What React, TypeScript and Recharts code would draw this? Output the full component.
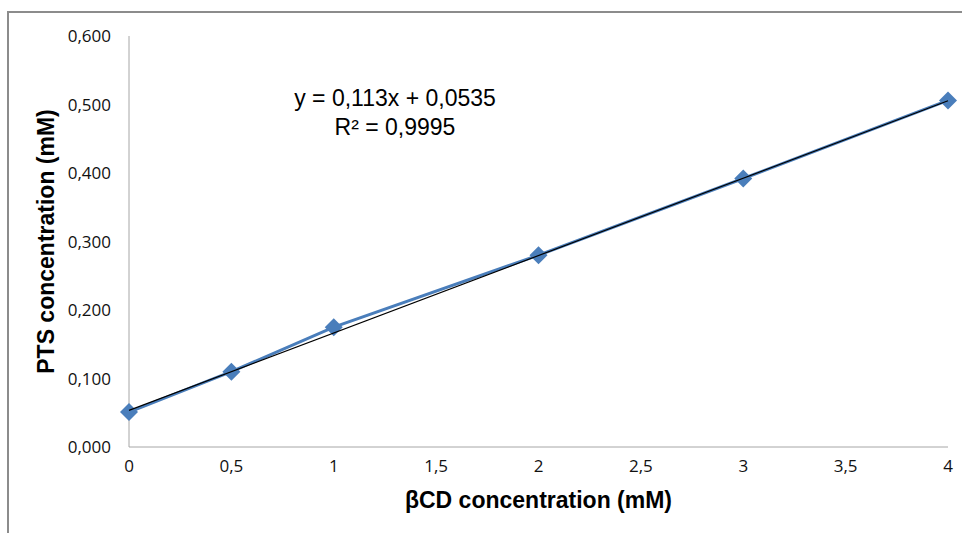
import React from "react";
import { ScatterChart, Scatter, XAxis, YAxis } from "recharts";

// Measured PTS solubility vs βCD concentration
const cdConc = [0, 0.5, 1, 2, 3, 4];
const ptsConc = [0.051, 0.11, 0.175, 0.28, 0.392, 0.506];

// Linear fit reported on the chart
const SLOPE = 0.113;
const INTERCEPT = 0.0535;
const FIT_RANGE = [0, 4];

const xTicks = [0, 0.5, 1, 1.5, 2, 2.5, 3, 3.5, 4];
const yTicks = [0, 0.1, 0.2, 0.3, 0.4, 0.5, 0.6];

const points = cdConc.map((x, i) => ({ x, y: ptsConc[i] }));
const fitLine = FIT_RANGE.map((x) => ({ x, y: SLOPE * x + INTERCEPT }));

const BLUE = "#4a7ebb";
const AXIS_GRAY = "#a6a6a6";
const TICK_FONT = "'Open Sans', 'Noto Sans', sans-serif";
const TITLE_FONT = "'Liberation Sans', Arial, sans-serif";

const comma = (v: number, digits: number) =>
  digits ? v.toFixed(digits).replace(".", ",") : String(v).replace(".", ",");

const tickStyle = {
  fill: "#111",
  fontSize: 17,
  fontFamily: TICK_FONT,
};

const Diamond = (props: any) => {
  const { cx, cy } = props;
  if (cx == null || cy == null) return null;
  const r = 9;
  return (
    <polygon
      points={`${cx},${cy - r} ${cx + r},${cy} ${cx},${cy + r} ${cx - r},${cy}`}
      fill={BLUE}
    />
  );
};

const XTitle = (props: any) => {
  const { x, y, width } = props.viewBox;
  return (
    <text
      x={x + width / 2}
      y={y + 61}
      textAnchor="middle"
      fontFamily={TITLE_FONT}
      fontWeight={700}
      fontSize={23}
      fill="#000"
    >
      βCD concentration (mM)
    </text>
  );
};

const YTitle = (props: any) => {
  const { y, height } = props.viewBox;
  const cx = 54;
  const cy = y + height / 2;
  return (
    <text
      x={cx}
      y={cy}
      transform={`rotate(-90 ${cx} ${cy})`}
      textAnchor="middle"
      fontFamily={TITLE_FONT}
      fontWeight={700}
      fontSize={23}
      fill="#000"
    >
      PTS concentration (mM)
    </text>
  );
};

export default function App() {
  return (
    <div
      style={{
        position: "absolute",
        left: 0,
        top: 0,
        width: 962,
        height: 533,
        overflow: "hidden",
        background: "#fff",
      }}
    >
      {/* chart frame */}
      <div
        style={{
          position: "absolute",
          left: 7,
          top: 11,
          width: 1100,
          height: 700,
          border: "2px solid #8c8c8c",
        }}
      />
      <ScatterChart
        width={962}
        height={533}
        margin={{ top: 36, right: 14, left: 0, bottom: 0 }}
        style={{ position: "absolute", left: 0, top: 0 }}
      >
        <XAxis
          type="number"
          dataKey="x"
          domain={[0, 4]}
          ticks={xTicks}
          height={86}
          tickLine={false}
          tickMargin={7}
          fontSize={17}
          axisLine={{ stroke: AXIS_GRAY, strokeWidth: 1 }}
          tick={tickStyle}
          tickFormatter={(v: number) => comma(v, 0)}
          label={<XTitle />}
        />
        <YAxis
          type="number"
          dataKey="y"
          domain={[0, 0.6]}
          ticks={yTicks}
          width={129}
          tickLine={false}
          tickMargin={12}
          fontSize={17}
          axisLine={{ stroke: AXIS_GRAY, strokeWidth: 1 }}
          tick={tickStyle}
          tickFormatter={(v: number) => comma(v, 3)}
          label={<YTitle />}
        />
        <Scatter
          data={points}
          line={{ stroke: BLUE, strokeWidth: 3 }}
          lineType="joint"
          shape={<Diamond />}
          isAnimationActive={false}
        />
        <Scatter
          data={fitLine}
          line={{ stroke: "#000", strokeWidth: 1.2 }}
          lineType="joint"
          shape={() => null}
          isAnimationActive={false}
        />
      </ScatterChart>
      <div
        style={{
          position: "absolute",
          left: 245,
          top: 84,
          width: 300,
          textAlign: "center",
          fontFamily: TITLE_FONT,
          fontSize: 23,
          lineHeight: "29px",
          color: "#000",
        }}
      >
        <div>y = 0,113x + 0,0535</div>
        <div>R² = 0,9995</div>
      </div>
    </div>
  );
}
